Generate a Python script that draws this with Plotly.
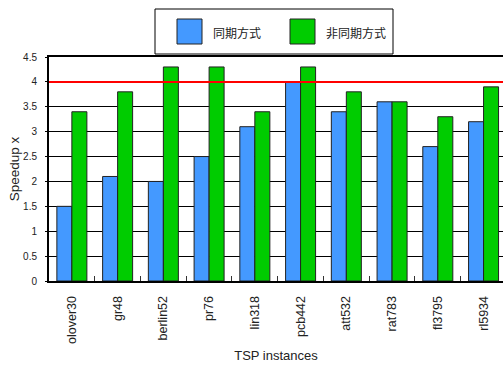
import plotly.graph_objects as go

instances = ["olover30", "gr48", "berlin52", "pr76", "lin318",
             "pcb442", "att532", "rat783", "fl3795", "rl5934"]
sync_speedup = [1.5, 2.1, 2.0, 2.5, 3.1, 4.0, 3.4, 3.6, 2.7, 3.2]
async_speedup = [3.4, 3.8, 4.3, 4.3, 3.4, 4.3, 3.8, 3.6, 3.3, 3.9]
series_names = ["同期方式", "非同期方式"]
series_colors = ["#4499FF", "#00CC00"]
ideal_speedup = 4
y_ticks = [0, 0.5, 1, 1.5, 2, 2.5, 3, 3.5, 4, 4.5]

LAT = "Liberation Sans, Arial, sans-serif"
CJK = "Noto Sans CJK JP, sans-serif"

W, H = 503, 365
L, R, T, B = 49, 0, 57, 84
PW, PH = W - L - R, H - T - B

fig = go.Figure()
for name, vals, col in zip(series_names, [sync_speedup, async_speedup], series_colors):
    fig.add_trace(go.Bar(
        x=instances, y=vals, name=name,
        marker=dict(color=col, line=dict(color="#222222", width=1)),
        showlegend=False,
    ))

# reference line at the ideal speedup
fig.add_shape(type="line", xref="x domain", yref="y", x0=0, x1=1,
              y0=ideal_speedup, y1=ideal_speedup,
              line=dict(color="#FF0000", width=2), layer="above")

# legend box, positioned in pixels relative to the page
def px(x):
    return (x - L) / PW
def py(y):
    return (H - B - y) / PH

fig.add_shape(type="rect", xref="paper", yref="paper",
              x0=px(155), x1=px(393), y0=py(54), y1=py(9),
              line=dict(color="#000000", width=1), fillcolor="white")
for i, (name, col) in enumerate(zip(series_names, series_colors)):
    x0 = [177, 290][i]
    fig.add_shape(type="rect", xref="paper", yref="paper",
                  x0=px(x0), x1=px(x0 + 25), y0=py(44), y1=py(19),
                  line=dict(color="#222222", width=1), fillcolor=col)
    fig.add_annotation(xref="paper", yref="paper", x=px(x0 + 34), y=py(32),
                       text=name, showarrow=False, xanchor="left", yanchor="middle",
                       font=dict(family=CJK, size=12, color="#222222"))

fig.update_layout(
    width=W, height=H,
    margin=dict(l=L, r=R, t=T, b=B),
    paper_bgcolor="white", plot_bgcolor="white",
    barmode="group", bargap=0.344, bargroupgap=0,
    font=dict(family=LAT, size=10, color="#222222"),
)
# the frame runs past the right page edge, so the last category is clipped
fig.update_xaxes(
    type="category", range=[-0.5, 9.425],
    tickangle=-90, tickfont=dict(size=12.5, family=LAT),
    tickson="boundaries", ticks="inside", ticklen=5, tickcolor="#333333",
    ticklabelstandoff=8,
    showline=True, linecolor="#000000", linewidth=2, mirror=True,
    showgrid=False,
    title=dict(text="TSP instances", font=dict(size=13, family=LAT), standoff=8),
)
fig.update_yaxes(
    range=[0, 4.5], tickvals=y_ticks, ticktext=[f"{v:g}" for v in y_ticks],
    tickfont=dict(size=10, family=LAT),
    ticks="outside", ticklen=2, tickcolor="#000000",
    ticklabelstandoff=6,
    showline=True, linecolor="#000000", linewidth=2, mirror=False,
    showgrid=True, gridcolor="#000000", gridwidth=1,
    zeroline=False,
    title=dict(text="Speedup x", font=dict(size=13.5, family=LAT), standoff=0),
)

fig.write_html("out.html")
